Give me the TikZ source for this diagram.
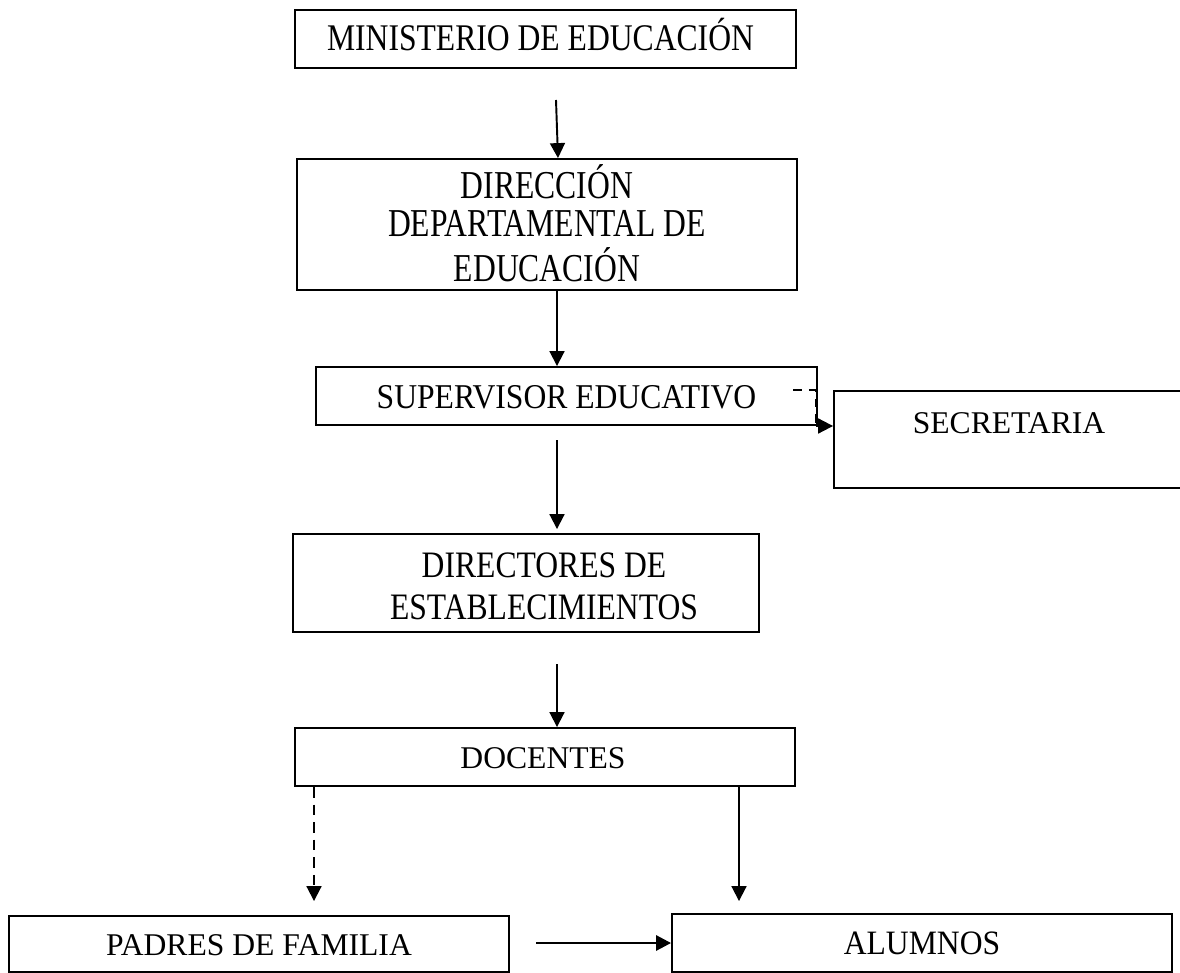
\documentclass[tikz,border=0pt]{standalone}
\usepackage{fontspec}
\setmainfont{Liberation Serif}
\usetikzlibrary{arrows.meta}
\newcommand\vstr[2]{\scalebox{1}[#1]{#2}}
\tikzset{
  box/.style={draw, line width=1.1pt, rectangle, inner sep=0pt},
  lbl/.style={font=\fontsize{18}{17.3}\selectfont, inner sep=0pt, align=center},
  one/.style={lbl, text height=13.5pt, text depth=0pt},
  arr/.style={line width=1.1pt, -{Triangle[length=8.5pt,width=8.5pt]}},
  dsh/.style={dash pattern=on 6pt off 4pt},
}
\begin{document}
\begin{tikzpicture}[x=0.02cm,y=-0.02cm]
\useasboundingbox (0,0) rectangle (1180,973);
\clip (0,0) rectangle (1180,973);
\coordinate (ax) at (557,0);
\coordinate (lx) at (314,0);
\coordinate (rx) at (739,0);

\node[box, minimum width=10.02cm, minimum height=1.16cm,
  label={[name=minT,one,xshift=-0.1cm]center:\vstr{1.19}{MINISTERIO DE EDUCACIÓN}}] (min) at (545.5,39) {};
\node[box, minimum width=10cm, minimum height=2.62cm,
  label={[name=dirT,lbl,yshift=-0.09cm]center:\vstr{1.25}{\begin{tabular}{@{}c@{}}DIRECCIÓN\\DEPARTAMENTAL DE\\EDUCACIÓN\end{tabular}}}] (dir) at (547,224.5) {};
\node[box, minimum width=10.02cm, minimum height=1.16cm,
  label={[name=supT,one,yshift=-0.02cm]center:\vstr{1.1}{SUPERVISOR EDUCATIVO}}] (sup) at (566.5,396) {};
\node[box, minimum width=8cm, minimum height=1.94cm,
  label={[name=secT,one,xshift=-0.5cm,yshift=0.35cm]center:SECRETARIA}] (sec) at (1034,439.5) {};
\node[box, minimum width=9.32cm, minimum height=1.96cm,
  label={[name=dirsT,lbl,xshift=0.36cm,yshift=-0.16cm]center:\vstr{1.18}{\begin{tabular}{@{}c@{}}DIRECTORES DE\\[3pt]ESTABLECIMIENTOS\end{tabular}}}] (dirs) at (526,583) {};
\node[box, minimum width=10cm, minimum height=1.16cm,
  label={[name=docT,one,xshift=-0.04cm]center:DOCENTES}] (doc) at (545,757) {};
\node[box, minimum width=10cm, minimum height=1.12cm,
  label={[name=padT,one]center:PADRES DE FAMILIA}] (pad) at (259,944) {};
\node[box, minimum width=10cm, minimum height=1.16cm,
  label={[name=aluT,one]center:\vstr{1.08}{ALUMNOS}}] (alu) at (922,943) {};

% connectors
\coordinate (c1) at (556,100);
\draw[arr] (c1) -- ([xshift=0.22cm]dir.north);
\draw[arr] (dir.south -| ax) -- (sup.north -| ax);
\coordinate (c3) at (557,440);
\draw[arr, shorten >=0.08cm] (c3) -- (dirs.north -| ax);
\coordinate (c4) at (557,664);
\draw[arr] (c4) -- (doc.north -| ax);
\draw[arr, dsh, shorten >=0.28cm] (doc.south -| lx) -- (pad.north -| lx);
\draw[arr, shorten >=0.24cm] (doc.south -| rx) -- (alu.north -| rx);
\coordinate (c7) at (536,943);
\draw[arr, line width=1.6pt] (c7) -- (alu.west |- c7);

% supervisor -> secretaria (dashed)
\coordinate (d0) at (793,390);
\coordinate (d1) at (816,426);
\draw[line width=1.1pt, dash pattern=on 5pt off 4pt] (d0) -- (d0 -| d1) -- (d1);
\draw[arr] (d1) -- (sec.west |- d1);
\end{tikzpicture}
\end{document}
